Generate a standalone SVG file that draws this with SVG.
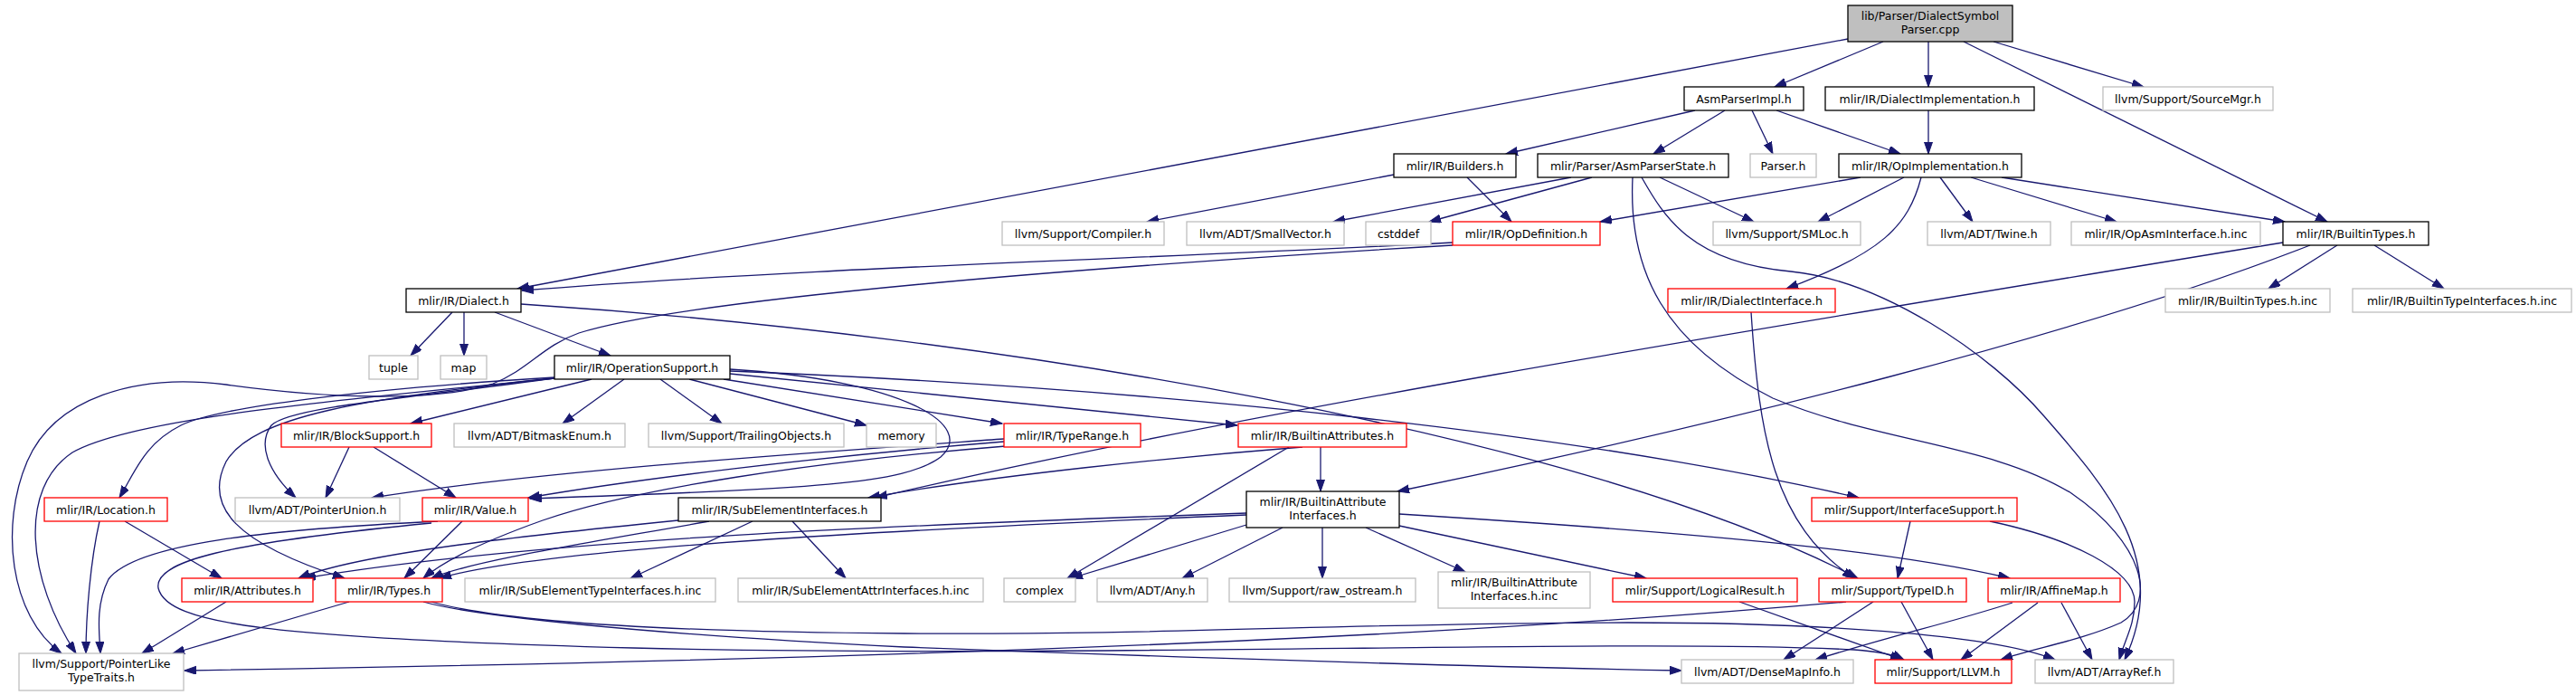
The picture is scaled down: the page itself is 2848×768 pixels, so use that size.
<svg xmlns="http://www.w3.org/2000/svg" width="2848" height="768" viewBox="0 0 2848 768">
<style>
.n rect{fill:#fff;stroke-width:1.3}
.k rect{stroke:#000}
.r rect{stroke:#ff0000}
.g rect{stroke:#bfbfbf}
.s rect{fill:#bfbfbf;stroke:#000}
.n text{font-family:"DejaVu Sans",sans-serif;font-size:12.5px;fill:#000;text-anchor:middle}
#edges path{fill:none;stroke:#191970;stroke-width:1.3;marker-end:url(#a)}
</style>
<defs>
<marker id="a" markerUnits="userSpaceOnUse" markerWidth="14" markerHeight="10" refX="13" refY="4.5" orient="auto"><path d="M0,0 L13,4.5 L0,9 Z" fill="#191970" stroke="#191970" stroke-width="1"/></marker>
</defs>
<rect width="2848" height="768" fill="#fff"/>
<g id="edges">
<path d="M2082,46 L1962,96"/>
<path d="M2132,46 L2132,96"/>
<path d="M2204,46 L2370,96"/>
<path d="M2171,46 L2573,245"/>
<path d="M2043,43 L572,319"/>
<path d="M1874,122 L1665,170"/>
<path d="M1907,122 L1828,170"/>
<path d="M1937,122 L1960,170"/>
<path d="M1964,122 L2101,170"/>
<path d="M2132,122 L2132,170"/>
<path d="M1541,193 L1268,245"/>
<path d="M1622,196 L1671,245"/>
<path d="M1737,196 L1474,245"/>
<path d="M1760,196 L1580,245"/>
<path d="M1835,196 L1939,245"/>
<path d="M1805,196 C1800,300 1840,380 1960,440 C2080,490 2200,490 2290,545 C2370,600 2385,665 2345,688 C2300,708 2250,716 2212,729"/>
<path d="M1815,196 C1840,240 1870,290 1980,300 C2080,310 2200,390 2260,460 C2330,540 2400,620 2349,729"/>
<path d="M2057,196 L1769,245"/>
<path d="M2105,196 L2010,245"/>
<path d="M2124,196 C2110,250 2080,280 1975,319"/>
<path d="M2145,196 L2181,245"/>
<path d="M2179,196 L2340,245"/>
<path d="M2213,196 L2526,245"/>
<path d="M2584,271 L2508,319"/>
<path d="M2625,271 L2702,319"/>
<path d="M2524,268 C1900,370 1350,460 968,550"/>
<path d="M2554,271 C2300,370 1900,470 1545,543"/>
<path d="M1606,268 C1300,285 900,295 577,321"/>
<path d="M1606,271 C1200,295 760,330 640,368 C600,382 585,408 545,424 C480,445 360,440 250,425 C150,412 60,440 30,510 C0,580 10,680 68,722"/>
<path d="M500,345 L454,393"/>
<path d="M513,345 L513,393"/>
<path d="M547,345 L675,393"/>
<path d="M576,336 C1100,370 1750,480 2054,639"/>
<path d="M1936,345 C1945,480 1960,580 2050,639"/>
<path d="M654,419 L454,468"/>
<path d="M690,419 L622,468"/>
<path d="M730,419 L798,468"/>
<path d="M762,419 L958,470"/>
<path d="M800,419 L1108,468"/>
<path d="M807,413 L1368,470"/>
<path d="M807,410 C1300,430 1750,480 2055,550"/>
<path d="M807,408 C1000,420 1080,470 1040,505 C1000,535 900,540 586,551"/>
<path d="M613,418 C400,440 280,460 250,510 C225,560 260,600 381,639"/>
<path d="M613,417 C400,430 240,450 200,470 C160,490 150,520 132,550"/>
<path d="M613,418 C450,440 320,450 300,470 C285,490 295,520 327,550"/>
<path d="M613,418 C400,440 150,460 80,500 C20,540 30,640 84,722"/>
<path d="M386,494 L360,550"/>
<path d="M413,494 L504,550"/>
<path d="M1110,485 C900,500 600,520 411,550"/>
<path d="M1110,488 C900,505 700,530 584,550"/>
<path d="M1112,493 C900,510 700,540 600,575 C530,600 490,620 468,639"/>
<path d="M511,576 L447,639"/>
<path d="M484,576 C300,585 150,600 120,640 C105,670 110,700 111,722"/>
<path d="M477,578 C250,600 170,620 175,650 C185,690 300,705 700,716 C1200,728 1800,705 2050,718 C2080,720 2095,724 2105,729"/>
<path d="M386,665 L191,722"/>
<path d="M468,665 C520,680 700,700 1000,715 C1400,730 1700,738 1859,741"/>
<path d="M470,663 C540,685 700,698 1000,700 C1300,702 1500,688 1800,688 C2000,688 2200,700 2272,729"/>
<path d="M250,665 L157,722"/>
<path d="M138,576 L245,639"/>
<path d="M110,576 C100,620 95,680 95,722"/>
<path d="M750,575 C600,590 400,610 330,639"/>
<path d="M784,576 C650,600 520,620 477,639"/>
<path d="M832,576 L697,639"/>
<path d="M876,576 L935,639"/>
<path d="M1440,494 C1300,505 1100,525 960,550"/>
<path d="M1460,494 L1460,543"/>
<path d="M1425,494 L1180,639"/>
<path d="M1378,567 C1000,580 600,595 336,639"/>
<path d="M1378,569 C1000,585 600,605 486,639"/>
<path d="M1378,580 L1184,639"/>
<path d="M1418,583 L1307,639"/>
<path d="M1462,583 L1462,639"/>
<path d="M1510,583 L1620,632"/>
<path d="M1547,581 L1820,639"/>
<path d="M1547,568 C1900,590 2100,610 2222,639"/>
<path d="M2112,576 L2098,639"/>
<path d="M2200,576 C2290,595 2360,630 2360,665 C2360,690 2350,705 2343,729"/>
<path d="M1923,665 L2103,729"/>
<path d="M2102,665 L2137,729"/>
<path d="M2071,665 L1972,729"/>
<path d="M2041,665 C1700,695 1200,725 204,741"/>
<path d="M2225,666 C2150,690 2100,700 2007,729"/>
<path d="M2253,666 L2168,729"/>
<path d="M2279,666 L2313,729"/>
</g>
<g id="n0" class="n s"><rect x="2043" y="6" width="182" height="40"/><text x="2134" y="22">lib/Parser/DialectSymbol</text><text x="2134" y="37">Parser.cpp</text></g>
<g id="n1" class="n k"><rect x="1862" y="96" width="132" height="26"/><text x="1928" y="113.5">AsmParserImpl.h</text></g>
<g id="n2" class="n k"><rect x="2018" y="96" width="231" height="26"/><text x="2133.5" y="113.5">mlir/IR/DialectImplementation.h</text></g>
<g id="n3" class="n g"><rect x="2325" y="96" width="188" height="26"/><text x="2419" y="113.5">llvm/Support/SourceMgr.h</text></g>
<g id="n4" class="n k"><rect x="1541" y="170" width="135" height="26"/><text x="1608.5" y="187.5">mlir/IR/Builders.h</text></g>
<g id="n5" class="n k"><rect x="1700" y="170" width="211" height="26"/><text x="1805.5" y="187.5">mlir/Parser/AsmParserState.h</text></g>
<g id="n6" class="n g"><rect x="1935" y="170" width="73" height="26"/><text x="1971.5" y="187.5">Parser.h</text></g>
<g id="n7" class="n k"><rect x="2033" y="170" width="202" height="26"/><text x="2134" y="187.5">mlir/IR/OpImplementation.h</text></g>
<g id="n8" class="n g"><rect x="1108" y="245" width="179" height="26"/><text x="1197.5" y="262.5">llvm/Support/Compiler.h</text></g>
<g id="n9" class="n g"><rect x="1312" y="245" width="174" height="26"/><text x="1399" y="262.5">llvm/ADT/SmallVector.h</text></g>
<g id="n10" class="n g"><rect x="1510" y="245" width="72" height="26"/><text x="1546" y="262.5">cstddef</text></g>
<g id="n11" class="n r"><rect x="1606" y="245" width="163" height="26"/><text x="1687.5" y="262.5">mlir/IR/OpDefinition.h</text></g>
<g id="n12" class="n g"><rect x="1894" y="245" width="163" height="26"/><text x="1975.5" y="262.5">llvm/Support/SMLoc.h</text></g>
<g id="n13" class="n g"><rect x="2131" y="245" width="136" height="26"/><text x="2199" y="262.5">llvm/ADT/Twine.h</text></g>
<g id="n14" class="n g"><rect x="2290" y="245" width="209" height="26"/><text x="2394.5" y="262.5">mlir/IR/OpAsmInterface.h.inc</text></g>
<g id="n15" class="n k"><rect x="2524" y="245" width="161" height="26"/><text x="2604.5" y="262.5">mlir/IR/BuiltinTypes.h</text></g>
<g id="n16" class="n k"><rect x="449" y="319" width="127" height="26"/><text x="512.5" y="336.5">mlir/IR/Dialect.h</text></g>
<g id="n17" class="n r"><rect x="1844" y="319" width="185" height="26"/><text x="1936.5" y="336.5">mlir/IR/DialectInterface.h</text></g>
<g id="n18" class="n g"><rect x="2394" y="319" width="182" height="26"/><text x="2485" y="336.5">mlir/IR/BuiltinTypes.h.inc</text></g>
<g id="n19" class="n g"><rect x="2601" y="319" width="242" height="26"/><text x="2722" y="336.5">mlir/IR/BuiltinTypeInterfaces.h.inc</text></g>
<g id="n20" class="n g"><rect x="408" y="393" width="54" height="26"/><text x="435" y="410.5">tuple</text></g>
<g id="n21" class="n g"><rect x="487" y="393" width="51" height="26"/><text x="512.5" y="410.5">map</text></g>
<g id="n22" class="n k"><rect x="613" y="393" width="194" height="26"/><text x="710" y="410.5">mlir/IR/OperationSupport.h</text></g>
<g id="n23" class="n r"><rect x="311" y="468" width="166" height="26"/><text x="394" y="485.5">mlir/IR/BlockSupport.h</text></g>
<g id="n24" class="n g"><rect x="502" y="468" width="189" height="26"/><text x="596.5" y="485.5">llvm/ADT/BitmaskEnum.h</text></g>
<g id="n25" class="n g"><rect x="717" y="468" width="216" height="26"/><text x="825" y="485.5">llvm/Support/TrailingObjects.h</text></g>
<g id="n26" class="n g"><rect x="958" y="468" width="77" height="26"/><text x="996.5" y="485.5">memory</text></g>
<g id="n27" class="n r"><rect x="1110" y="468" width="151" height="26"/><text x="1185.5" y="485.5">mlir/IR/TypeRange.h</text></g>
<g id="n28" class="n r"><rect x="1369" y="468" width="186" height="26"/><text x="1462" y="485.5">mlir/IR/BuiltinAttributes.h</text></g>
<g id="n29" class="n r"><rect x="49" y="550" width="136" height="26"/><text x="117" y="567.5">mlir/IR/Location.h</text></g>
<g id="n30" class="n g"><rect x="260" y="550" width="182" height="26"/><text x="351" y="567.5">llvm/ADT/PointerUnion.h</text></g>
<g id="n31" class="n r"><rect x="467" y="550" width="117" height="26"/><text x="525.5" y="567.5">mlir/IR/Value.h</text></g>
<g id="n32" class="n k"><rect x="750" y="550" width="224" height="26"/><text x="862" y="567.5">mlir/IR/SubElementInterfaces.h</text></g>
<g id="n33" class="n k"><rect x="1378" y="543" width="169" height="40"/><text x="1462.5" y="559">mlir/IR/BuiltinAttribute</text><text x="1462.5" y="574">Interfaces.h</text></g>
<g id="n34" class="n r"><rect x="2003" y="550" width="227" height="26"/><text x="2116.5" y="567.5">mlir/Support/InterfaceSupport.h</text></g>
<g id="n35" class="n r"><rect x="201" y="639" width="145" height="26"/><text x="273.5" y="656.5">mlir/IR/Attributes.h</text></g>
<g id="n36" class="n r"><rect x="371" y="639" width="118" height="26"/><text x="430" y="656.5">mlir/IR/Types.h</text></g>
<g id="n37" class="n g"><rect x="514" y="639" width="277" height="26"/><text x="652.5" y="656.5">mlir/IR/SubElementTypeInterfaces.h.inc</text></g>
<g id="n38" class="n g"><rect x="816" y="639" width="271" height="26"/><text x="951.5" y="656.5">mlir/IR/SubElementAttrInterfaces.h.inc</text></g>
<g id="n39" class="n g"><rect x="1110" y="639" width="79" height="26"/><text x="1149.5" y="656.5">complex</text></g>
<g id="n40" class="n g"><rect x="1213" y="639" width="122" height="26"/><text x="1274" y="656.5">llvm/ADT/Any.h</text></g>
<g id="n41" class="n g"><rect x="1359" y="639" width="206" height="26"/><text x="1462" y="656.5">llvm/Support/raw_ostream.h</text></g>
<g id="n42" class="n g"><rect x="1590" y="632" width="168" height="40"/><text x="1674" y="648">mlir/IR/BuiltinAttribute</text><text x="1674" y="663">Interfaces.h.inc</text></g>
<g id="n43" class="n r"><rect x="1783" y="639" width="204" height="26"/><text x="1885" y="656.5">mlir/Support/LogicalResult.h</text></g>
<g id="n44" class="n r"><rect x="2011" y="639" width="163" height="26"/><text x="2092.5" y="656.5">mlir/Support/TypeID.h</text></g>
<g id="n45" class="n r"><rect x="2198" y="639" width="146" height="26"/><text x="2271" y="656.5">mlir/IR/AffineMap.h</text></g>
<g id="n46" class="n g"><rect x="21" y="722" width="182" height="41"/><text x="112" y="738">llvm/Support/PointerLike</text><text x="112" y="753">TypeTraits.h</text></g>
<g id="n47" class="n g"><rect x="1859" y="729" width="190" height="26"/><text x="1954" y="746.5">llvm/ADT/DenseMapInfo.h</text></g>
<g id="n48" class="n r"><rect x="2073" y="729" width="151" height="26"/><text x="2148.5" y="746.5">mlir/Support/LLVM.h</text></g>
<g id="n49" class="n g"><rect x="2250" y="729" width="153" height="26"/><text x="2326.5" y="746.5">llvm/ADT/ArrayRef.h</text></g>
</svg>
